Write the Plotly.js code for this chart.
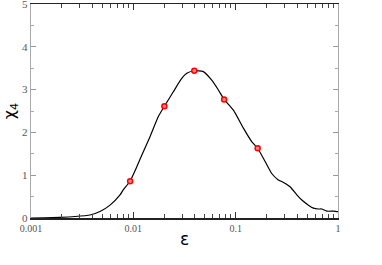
<!DOCTYPE html>
<html><head><meta charset="utf-8">
<script src="https://cdn.plot.ly/plotly-3.0.1.min.js"></script>
<style>html,body{margin:0;padding:0;background:#fff}#c{width:382px;height:265px}</style>
</head><body><div id="c"></div>
<script>
const curveX = [0.001,0.00137,0.00192,0.00269,0.00377,0.00472,0.00592,0.00741,0.00793,0.00929,0.01079,0.01162,0.01456,0.01755,0.0201,0.0246,0.0297,0.0333,0.0394,0.0483,0.0584,0.0678,0.0771,0.095,0.119,0.144,0.164,0.194,0.225,0.261,0.293,0.34,0.396,0.443,0.514,0.575,0.643,0.695,0.778,0.902,0.973,1.0];
const curveY = [0.0,0.005,0.016,0.035,0.07,0.15,0.30,0.54,0.65,0.86,1.19,1.37,1.9,2.37,2.61,2.95,3.26,3.38,3.44,3.42,3.22,2.99,2.77,2.52,2.10,1.78,1.63,1.32,1.04,0.89,0.83,0.73,0.54,0.42,0.30,0.23,0.21,0.21,0.16,0.16,0.15,0.15];
const pointX = [0.0093,0.0201,0.0394,0.0771,0.164];
const pointY = [0.86,2.61,3.44,2.77,1.63];
const xTickVals = [0.001,0.01,0.1,1];
const xTickText = ['0.001','0.01','0.1','1'];
const xMinorVals = [0.002,0.003,0.004,0.005,0.006,0.007,0.008,0.009,0.02,0.03,0.04,0.05,0.06,0.07,0.08,0.09,0.2,0.3,0.4,0.5,0.6,0.7,0.8,0.9];
const yTickVals = [0,1,2,3,4,5];

const traces = [
  {x: curveX, y: curveY, type:'scatter', mode:'lines', line:{color:'#000', width:1.2, shape:'spline', smoothing:0.5}, hoverinfo:'none'},
  {x: pointX, y: pointY, type:'scatter', mode:'markers', marker:{symbol:'circle', size:5, color:'#f88', line:{width:1.5, color:'#f00'}}, hoverinfo:'none'}
];
const layout = {
  width:382, height:265, showlegend:false,
  paper_bgcolor:'#fff', plot_bgcolor:'#fff',
  margin:{l:31, r:44, t:4, b:47},
  xaxis:{type:'log', range:[-3,0], tickmode:'array', tickvals:xTickVals, ticktext:xTickText,
    showgrid:false, zeroline:false, showline:true, linecolor:'#222', linewidth:1.5, mirror:'ticks',
    ticks:'inside', ticklen:6, tickcolor:'#333', tickwidth:1.2,
    minor:{tickmode:'array', tickvals:xMinorVals, ticks:'inside', ticklen:4, tickcolor:'#444', tickwidth:1, showgrid:false},
    tickfont:{family:'Liberation Serif', size:10, color:'#555'}, ticklabeloverflow:'allow',
    title:{text:'ε', font:{family:'DejaVu Sans', size:17, color:'#000'}, standoff:0}},
  yaxis:{range:[0,5], tickmode:'array', tickvals:yTickVals,
    showgrid:false, zeroline:false, showline:true, linecolor:'#aaa', linewidth:1.2, mirror:'ticks',
    ticks:'inside', ticklen:5, tickcolor:'#999', tickwidth:1.2,
    minor:{tickmode:'linear', tick0:0, dtick:0.5, ticks:'inside', ticklen:3, tickcolor:'#aaa', tickwidth:1, showgrid:false},
    tickfont:{family:'Liberation Serif', size:11, color:'#555'}, ticklabeloverflow:'allow',
    title:{text:'χ<sub>4</sub>', font:{family:'DejaVu Sans', size:16, color:'#000'}, standoff:2}}
};
Plotly.newPlot('c', traces, layout, {staticPlot:true, displayModeBar:false});
</script></body></html>
